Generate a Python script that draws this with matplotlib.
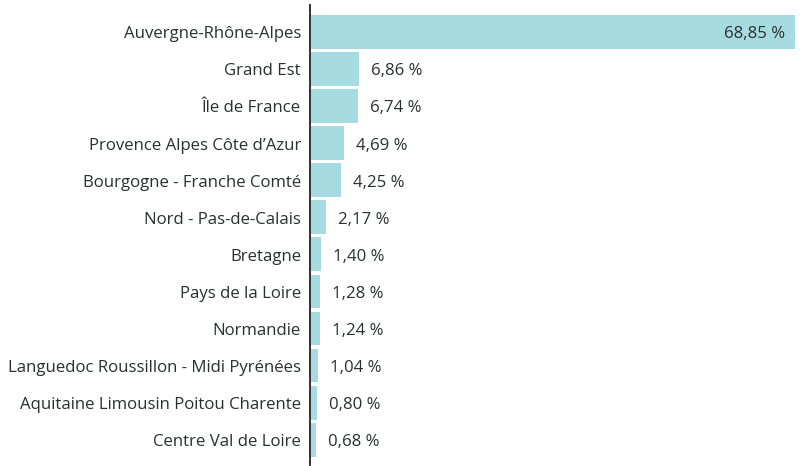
import matplotlib
matplotlib.use("Agg")
import matplotlib.pyplot as plt
from matplotlib.transforms import offset_copy

regions = ["Auvergne-Rhône-Alpes", "Grand Est", "Île de France",
           "Provence Alpes Côte d’Azur", "Bourgogne - Franche Comté",
           "Nord - Pas-de-Calais", "Bretagne", "Pays de la Loire", "Normandie",
           "Languedoc Roussillon - Midi Pyrénées",
           "Aquitaine Limousin Poitou Charente", "Centre Val de Loire"]
values = [68.85, 6.86, 6.74, 4.69, 4.25, 2.17, 1.40, 1.28, 1.24, 1.04, 0.80, 0.68]

plt.rcParams['font.family'] = ['Open Sans', 'DejaVu Sans']
TEXT = '#2b2f30'
BAR = '#a6dce1'
FS = 12.1
FW = 'medium'
DY = -2.5

fig = plt.figure(figsize=(8.07, 4.66), dpi=100)
ax = fig.add_axes([311/807, 1 - 465/466, (795 - 311)/807, (465 - 5)/466])

y = list(range(len(regions)))
ax.barh(y, values, height=0.91, color=BAR, left=0)
ax.set_xlim(0, 68.85)
ax.set_ylim(11.68, -0.72)

ax.set_yticks([])
ax.set_xticks([])
for s in ['top', 'right', 'bottom']:
    ax.spines[s].set_visible(False)
ax.spines['left'].set_color('#222222')
ax.spines['left'].set_linewidth(1.3)
ax.spines['left'].set_position(('outward', 1))

lab_tr = offset_copy(ax.transData, fig=fig, x=-10, y=DY, units='dots')
for i, name in enumerate(regions):
    ax.text(0, i, name, transform=lab_tr, ha='right', va='center',
            fontsize=FS, color=TEXT, fontweight=FW, clip_on=False)

for i, v in enumerate(values):
    txt = f"{v:.2f}".replace('.', ',') + " %"
    if i == 0:
        tr = offset_copy(ax.transData, fig=fig, x=-10, y=DY, units='dots')
        ax.text(v, i, txt, transform=tr, ha='right', va='center',
                fontsize=FS, color=TEXT, fontweight=FW)
    else:
        tr = offset_copy(ax.transData, fig=fig, x=12, y=DY, units='dots')
        ax.text(v, i, txt, transform=tr, ha='left', va='center',
                fontsize=FS, color=TEXT, fontweight=FW)

fig.savefig("out.png", dpi=100)
